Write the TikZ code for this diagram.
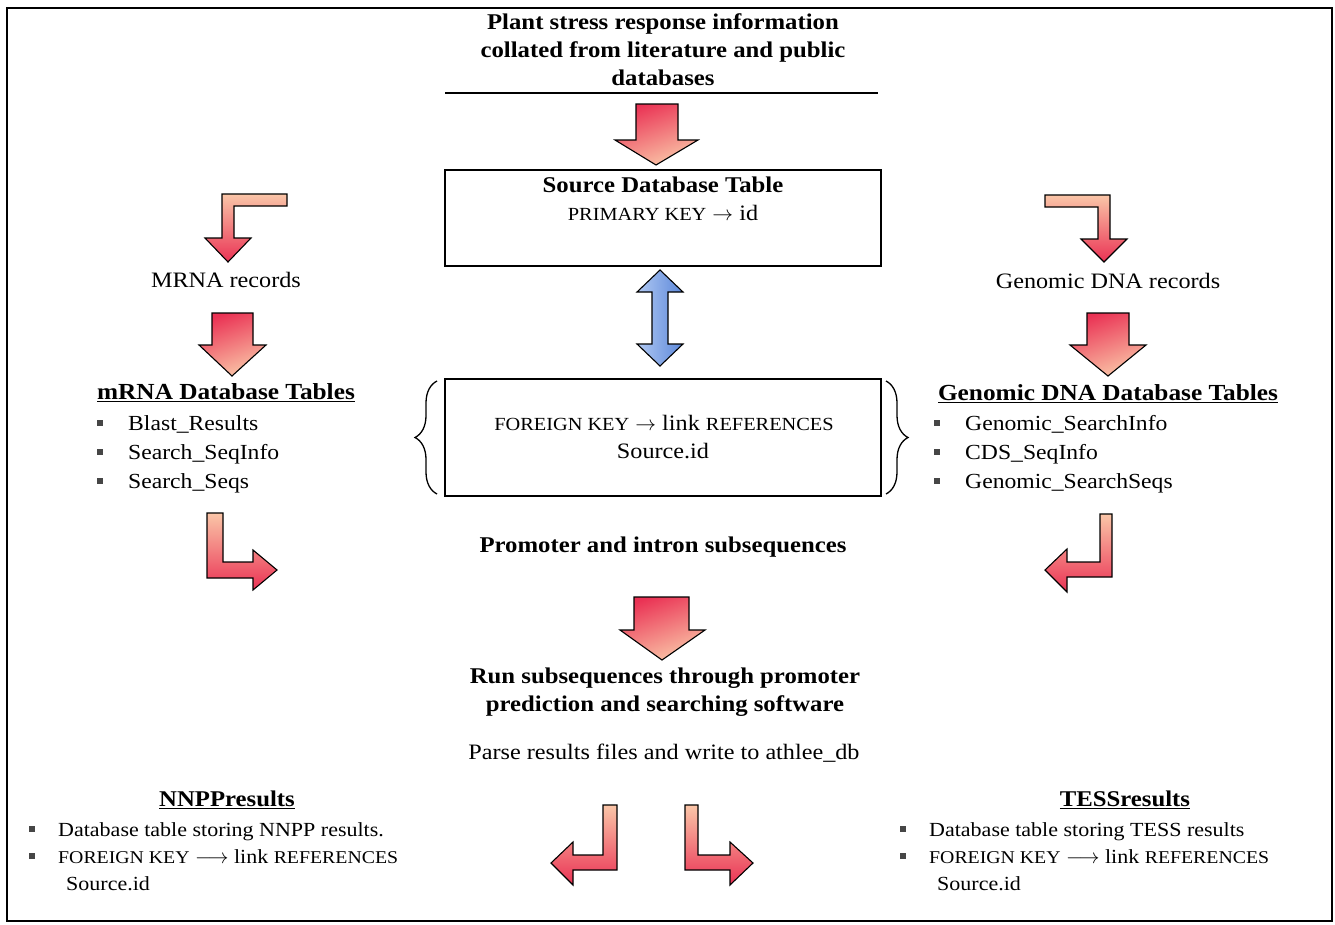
\documentclass[tikz,border=0pt]{standalone}
\usepackage{fontspec}
\setmainfont[FakeStretch=1.1]{Liberation Serif}
\usetikzlibrary{decorations.pathreplacing}

\definecolor{arrred}{RGB}{234,50,84}
\definecolor{arrpeach}{RGB}{250,198,168}
\definecolor{arrblue}{RGB}{92,136,218}
\definecolor{arrbluelt}{RGB}{176,200,242}
\definecolor{bulletgray}{RGB}{70,70,70}

% reduced-size capitals used for SQL keywords
\newcommand{\kw}[1]{{\fontsize{18.5}{18}\selectfont #1}}
\newcommand{\kwsmall}[1]{{\fontsize{18}{18}\selectfont #1}}
\newcommand{\sqbullet}{\textcolor{bulletgray}{\rule[4pt]{6pt}{6pt}}}

\tikzset{
  blockarrow/.style={draw=black, line width=1.1pt, line join=miter,
    shading=axis, top color=arrred, bottom color=arrpeach, shading angle=20},
  bentarrow/.style={draw=black, line width=1.1pt, line join=miter,
    shading=axis, top color=arrpeach, bottom color=arrred},
  dblarrow/.style={draw=black, line width=1.1pt, line join=miter,
    shading=axis, left color=arrbluelt, right color=arrblue},
  tablebox/.style={draw=black, line width=1.4pt},
  heading/.style={font=\fontsize{22.5}{28}\selectfont\bfseries, align=center, inner sep=0pt},
  tablehead/.style={font=\fontsize{23}{28}\selectfont\bfseries, align=center, inner sep=0pt},
  plain/.style={font=\fontsize{22}{28}\selectfont, align=center, inner sep=0pt},
  listnode/.style={inner sep=0pt, anchor=base west},
  bracedeco/.style={decorate, decoration={brace, amplitude=22pt}, line width=1.3pt}
}

\begin{document}
\begin{tikzpicture}[x=1pt, y=-1pt]
\useasboundingbox (0,0) rectangle (1335,924);
\fill[white] (0,0) rectangle (1335,924);
\draw[line width=2pt] (7,8) rectangle (1332,921);

% ---- source information ----
\node[heading] (title) at (663,50)
  {Plant stress response information\\collated from literature and public\\databases};
\draw[line width=1.4pt] (445,93) -- (878,93);

\path[blockarrow] (636,104) -- (678,104) -- (678,140) -- (698,140) -- (656,165)
  -- (615,140) -- (636,140) -- cycle;

% ---- central tables ----
\draw[tablebox] (445,170) rectangle (881,266);
\node[heading] (src) at (663,185) {Source Database Table};
\node[plain] (srckey) at (663,213) {\kw{PRIMARY KEY} $\rightarrow$ id};

\path[dblarrow] (660,270) -- (683,292) -- (668,292) -- (668,344) -- (683,344)
  -- (660,366) -- (637,344) -- (652,344) -- (652,292) -- (637,292) -- cycle;

\draw[tablebox] (445,379) rectangle (881,496);
\node[plain] (fk1) at (664,423) {\kw{FOREIGN KEY} $\rightarrow$ link \kw{REFERENCES}};
\node[plain] (fk2) at (663,451) {Source.id};
\draw[bracedeco] (437,494) -- (437,381);
\draw[bracedeco] (886,381) -- (886,494);

% ---- mRNA branch ----
\path[bentarrow] (287,194) -- (287,206) -- (234,206) -- (234,238) -- (251,238)
  -- (228,262) -- (205,238) -- (222,238) -- (222,194) -- cycle;
\node[plain] (mrec) at (226,280) {MRNA records};
\path[blockarrow] (212,313) -- (253,313) -- (253,345) -- (266,345) -- (232,376)
  -- (199,345) -- (212,345) -- cycle;
\node[tablehead] (mhead) at (226,393) {\underline{mRNA Database Tables}};
\node[listnode, font=\fontsize{21.5}{29}\selectfont] (mlist) at (97,430)
  {\begin{tabular}[t]{@{}l@{\hspace{25pt}}l@{}}
   \sqbullet & Blast\_Results\\
   \sqbullet & Search\_SeqInfo\\
   \sqbullet & Search\_Seqs
   \end{tabular}};
\path[bentarrow] (207,513) -- (223,513) -- (223,562) -- (253,562) -- (253,550)
  -- (277,570) -- (253,590) -- (253,578) -- (207,578) -- cycle;

% ---- genomic DNA branch ----
\path[bentarrow] (1045,195) -- (1110,195) -- (1110,239) -- (1127,239) -- (1104,262)
  -- (1081,239) -- (1098,239) -- (1098,207) -- (1045,207) -- cycle;
\node[plain] (grec) at (1108,281) {Genomic DNA records};
\path[blockarrow] (1087,313) -- (1129,313) -- (1129,345) -- (1146,345) -- (1108,376)
  -- (1070,345) -- (1087,345) -- cycle;
\node[tablehead] (ghead) at (1108,394) {\underline{Genomic DNA Database Tables}};
\node[listnode, font=\fontsize{21.5}{29}\selectfont] (glist) at (934,430)
  {\begin{tabular}[t]{@{}l@{\hspace{25pt}}l@{}}
   \sqbullet & Genomic\_SearchInfo\\
   \sqbullet & CDS\_SeqInfo\\
   \sqbullet & Genomic\_SearchSeqs
   \end{tabular}};
\path[bentarrow] (1100,514) -- (1112,514) -- (1112,577) -- (1067,577) -- (1067,592)
  -- (1045,570) -- (1067,549) -- (1067,562) -- (1100,562) -- cycle;

% ---- subsequence processing ----
\node[heading] (sub) at (663,547) {Promoter and intron subsequences};
\path[blockarrow] (634,597) -- (689,597) -- (689,630) -- (705,630) -- (662,660)
  -- (620,630) -- (634,630) -- cycle;
\node[heading] (run) at (665,692)
  {Run subsequences through promoter\\prediction and searching software};
\node[plain] (parse) at (664,753) {Parse results files and write to athlee\_db};

% ---- result tables ----
\path[bentarrow] (603,805) -- (617,805) -- (617,870) -- (573,870) -- (573,885)
  -- (551,863) -- (573,842) -- (573,855) -- (603,855) -- cycle;
\path[bentarrow] (685,805) -- (698,805) -- (698,855) -- (730,855) -- (730,842)
  -- (753,863) -- (730,885) -- (730,870) -- (685,870) -- cycle;

\node[heading] (nnpp) at (227,800) {\underline{NNPPresults}};
\node[listnode, font=\fontsize{20}{27}\selectfont] (nlist) at (29,836)
  {\begin{tabular}[t]{@{}l@{\hspace{23pt}}l@{}}
   \sqbullet & Database table storing NNPP results.\\
   \sqbullet & \kwsmall{FOREIGN KEY} $\longrightarrow$ link \kwsmall{REFERENCES}\\
   & \hspace{8pt}Source.id
   \end{tabular}};

\node[heading] (tess) at (1125,800) {\underline{TESSresults}};
\node[listnode, font=\fontsize{20}{27}\selectfont] (tlist) at (900,836)
  {\begin{tabular}[t]{@{}l@{\hspace{23pt}}l@{}}
   \sqbullet & Database table storing TESS results\\
   \sqbullet & \kwsmall{FOREIGN KEY} $\longrightarrow$ link \kwsmall{REFERENCES}\\
   & \hspace{8pt}Source.id
   \end{tabular}};
\end{tikzpicture}
\end{document}
